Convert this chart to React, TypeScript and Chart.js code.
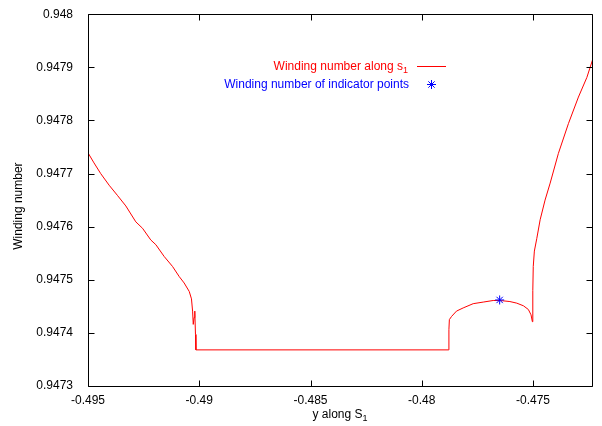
import { useEffect, useRef } from "react";
import { Chart, registerables } from "chart.js";

Chart.register(...registerables);

// ---- data ----
const curveX = [
  -0.495, -0.49473, -0.49443, -0.49405, -0.49368, -0.4933, -0.49285, -0.49255,
  -0.49218, -0.49195, -0.49158, -0.4912, -0.4909, -0.49068, -0.49045, -0.49035,
  -0.4903, -0.49027, -0.49023, -0.4902, -0.49017, -0.49015, -0.47881, -0.47878,
  -0.47876, -0.47866, -0.47844, -0.47814, -0.47769, -0.47724, -0.47679, -0.47649,
  -0.47604, -0.47573, -0.47543, -0.47521, -0.47509, -0.47503, -0.47501, -0.47499,
  -0.47494, -0.47483, -0.47468, -0.47446, -0.47423, -0.47386, -0.47341, -0.47296,
  -0.47258, -0.47231,
];
const curveY = [
  0.947739, 0.94772, 0.9477, 0.947678, 0.947659, 0.947639, 0.947609, 0.947597,
  0.947575, 0.947566, 0.947544, 0.947525, 0.947506, 0.947494, 0.947478, 0.947464,
  0.947441, 0.947416, 0.947429, 0.947441, 0.947397, 0.947368, 0.947368, 0.947406,
  0.947425, 0.947431, 0.947441, 0.947447, 0.947455, 0.947458, 0.947461, 0.947461,
  0.947459, 0.947456, 0.947451, 0.947444, 0.947434, 0.947421, 0.94748, 0.947525,
  0.947554, 0.947578, 0.947613, 0.94765, 0.947682, 0.947738, 0.947794, 0.947844,
  0.947881, 0.947916,
];
const markerX = [-0.4765];
const markerY = [0.947462];

const xTicks = [-0.495, -0.49, -0.485, -0.48, -0.475];
const yTicks = [0.9473, 0.9474, 0.9475, 0.9476, 0.9477, 0.9478, 0.9479, 0.948];
const xMin = -0.495;
const xMax = -0.47235;
const yMin = 0.9473;
const yMax = 0.948;

const xTitle = "y along S";
const xTitleSub = "1";
const yTitle = "Winding number";
const legendCurve = "Winding number along s";
const legendCurveSub = "1";
const legendMarker = "Winding number of indicator points";

const FONT = '"Liberation Sans", Arial, Helvetica, sans-serif';
const FS = 12;
const RED = "#ff0000";
const BLUE = "#0000ff";

function fmt(v: number): string {
  return String(Number(v.toFixed(5)));
}

function drawSubText(
  ctx: CanvasRenderingContext2D,
  main: string,
  sub: string,
  x: number,
  baseline: number,
  align: "right" | "center",
  color: string
) {
  ctx.font = `${FS}px ${FONT}`;
  const mw = ctx.measureText(main).width;
  ctx.font = `${FS * 0.75}px ${FONT}`;
  const sw = ctx.measureText(sub).width;
  const total = mw + sw;
  const start = align === "right" ? x - total : x - total / 2;
  ctx.fillStyle = color;
  ctx.textAlign = "left";
  ctx.textBaseline = "alphabetic";
  ctx.font = `${FS}px ${FONT}`;
  ctx.fillText(main, start, baseline);
  ctx.font = `${FS * 0.75}px ${FONT}`;
  ctx.fillText(sub, start + mw, baseline + 3);
}

const framePlugin = {
  id: "gnuframe",
  afterDraw(chart: any) {
    const { ctx, chartArea: a, scales } = chart;
    const xs = scales.x;
    const ys = scales.y;
    ctx.save();
    ctx.strokeStyle = "#000";
    ctx.lineWidth = 1;
    const L = Math.round(a.left) + 0.5;
    const R = Math.round(a.right) + 0.5;
    const T = Math.round(a.top) + 0.5;
    const B = Math.round(a.bottom) + 0.5;
    ctx.beginPath();
    ctx.rect(L, T, R - L, B - T);
    const tl = 6;
    for (const v of xTicks) {
      const px = Math.round(xs.getPixelForValue(v)) + 0.5;
      ctx.moveTo(px, B);
      ctx.lineTo(px, B - tl);
      ctx.moveTo(px, T);
      ctx.lineTo(px, T + tl);
    }
    for (const v of yTicks) {
      const py = Math.round(ys.getPixelForValue(v)) + 0.5;
      ctx.moveTo(L, py);
      ctx.lineTo(L + tl, py);
      ctx.moveTo(R, py);
      ctx.lineTo(R - tl, py);
    }
    ctx.stroke();

    // axis titles
    drawSubText(ctx, xTitle, xTitleSub, (a.left + a.right) / 2, 418, "center", "#000");
    ctx.save();
    ctx.translate(22, (a.top + a.bottom) / 2 + 6);
    ctx.rotate(-Math.PI / 2);
    ctx.font = `${FS}px ${FONT}`;
    ctx.fillStyle = "#000";
    ctx.textAlign = "center";
    ctx.textBaseline = "alphabetic";
    ctx.fillText(yTitle, 0, 0);
    ctx.restore();

    // legend
    drawSubText(ctx, legendCurve, legendCurveSub, 408, 70, "right", RED);
    ctx.strokeStyle = RED;
    ctx.beginPath();
    ctx.moveTo(417, 66.5);
    ctx.lineTo(446, 66.5);
    ctx.stroke();

    ctx.font = `${FS}px ${FONT}`;
    ctx.fillStyle = BLUE;
    ctx.textAlign = "right";
    ctx.textBaseline = "alphabetic";
    ctx.fillText(legendMarker, 409, 88);
    const sx = 431.5;
    const sy = 84.5;
    const r = 4.5;
    const d = r * Math.SQRT1_2;
    ctx.strokeStyle = BLUE;
    ctx.beginPath();
    ctx.moveTo(sx - r, sy);
    ctx.lineTo(sx + r, sy);
    ctx.moveTo(sx, sy - r);
    ctx.lineTo(sx, sy + r);
    ctx.moveTo(sx - d, sy - d);
    ctx.lineTo(sx + d, sy + d);
    ctx.moveTo(sx - d, sy + d);
    ctx.lineTo(sx + d, sy - d);
    ctx.stroke();
    ctx.restore();
  },
};

export default function App() {
  const ref = useRef<HTMLCanvasElement | null>(null);

  useEffect(() => {
    document.body.style.margin = "0";
    const canvas = ref.current;
    if (!canvas) return;
    const chart = new Chart(canvas, {
      type: "scatter",
      data: {
        datasets: [
          {
            label: legendCurve,
            data: curveX.map((x, i) => ({ x, y: curveY[i] })),
            showLine: true,
            borderColor: RED,
            backgroundColor: RED,
            borderWidth: 1,
            pointRadius: 0,
            tension: 0,
            order: 2,
          },
          {
            label: legendMarker,
            data: markerX.map((x, i) => ({ x, y: markerY[i] })),
            showLine: false,
            pointStyle: "star",
            pointRadius: 4.5,
            borderColor: BLUE,
            backgroundColor: BLUE,
            borderWidth: 1,
            order: 1,
          },
        ],
      } as any,
      options: {
        animation: false,
        responsive: false,
        devicePixelRatio: 1,
        layout: { padding: { top: 13, right: 10, left: 0, bottom: 0 } },
        plugins: { legend: { display: false }, tooltip: { enabled: false } },
        scales: {
          x: {
            type: "linear",
            min: xMin,
            max: xMax,
            grid: { display: false },
            border: { display: false },
            afterBuildTicks: (s: any) => {
              s.ticks = xTicks.map((v) => ({ value: v }));
            },
            afterFit: (s: any) => {
              s.height = 40;
            },
            ticks: {
              color: "#000",
              font: { family: FONT, size: FS },
              padding: -1,
              maxRotation: 0,
              autoSkip: false,
              callback: (v: any) => fmt(Number(v)),
            },
          },
          y: {
            type: "linear",
            min: yMin,
            max: yMax,
            grid: { display: false },
            border: { display: false },
            afterBuildTicks: (s: any) => {
              s.ticks = yTicks.map((v) => ({ value: v }));
            },
            afterFit: (s: any) => {
              s.width = 88;
            },
            ticks: {
              color: "#000",
              font: { family: FONT, size: FS },
              padding: 7,
              autoSkip: false,
              callback: (v: any) => fmt(Number(v)),
            },
          },
        },
      } as any,
      plugins: [framePlugin],
    });
    return () => chart.destroy();
  }, []);

  return <canvas ref={ref} width={602} height={426} style={{ display: "block" }} />;
}
